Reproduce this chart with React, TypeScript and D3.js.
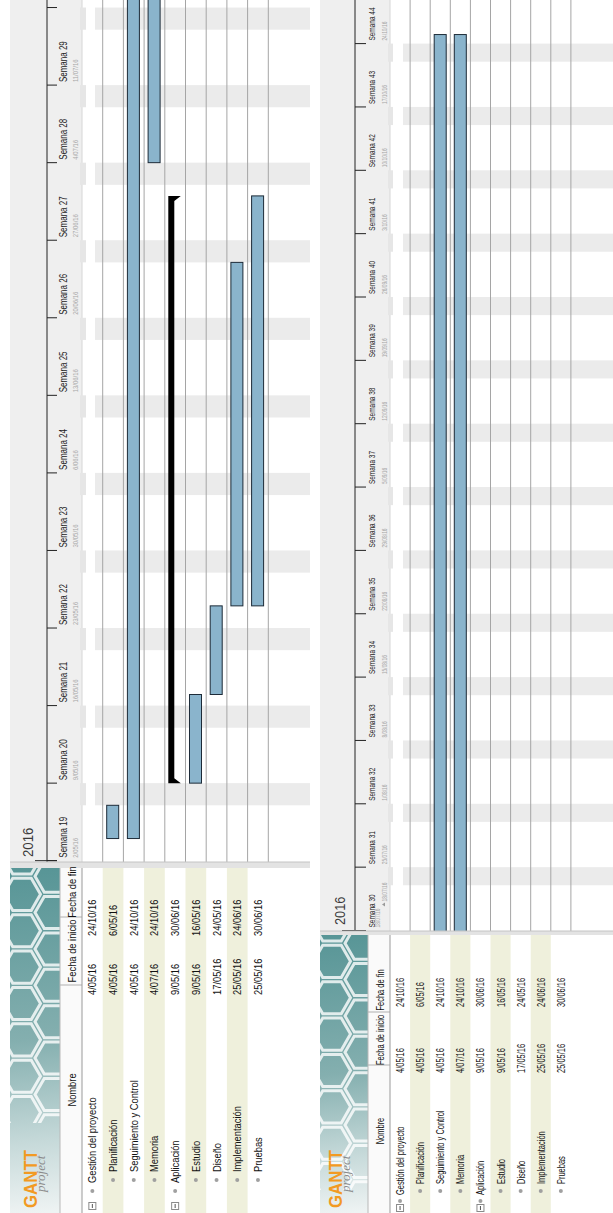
import React from 'react';
import * as d3 from 'd3';

// Tareas del proyecto (filas del diagrama)
const TASK_NAMES = ['Gestión del proyecto', 'Planificación', 'Seguimiento y Control', 'Memoria', 'Aplicación', 'Estudio', 'Diseño', 'Implementación', 'Pruebas'];
const TASK_LEVELS = [0, 1, 1, 1, 0, 1, 1, 1, 1];
const TASK_STARTS = ['4/05/16', '4/05/16', '4/05/16', '4/07/16', '9/05/16', '9/05/16', '17/05/16', '25/05/16', '25/05/16'];
const TASK_ENDS = ['24/10/16', '6/05/16', '24/10/16', '24/10/16', '30/06/16', '16/05/16', '24/05/16', '24/06/16', '30/06/16'];
// como se dibuja cada fila: sin barra, tarea normal o resumen
const TASK_KINDS = ['none', 'task', 'task', 'task', 'summary', 'task', 'task', 'task', 'task'];
const COLUMN_TITLES = ['Nombre', 'Fecha de inicio', 'Fecha de fin'];
const YEAR_LABEL = '2016';
const TODAY_LABEL = '18/07/16';
// rango visible de cada captura
const VIEW_RANGES = [['2/05/16', '18/07/16'], ['18/07/16', '31/10/16']];

const parse = d3.utcParse('%d/%m/%y');
const fmt = d3.utcFormat('%-d/%m/%y');
const FONT = '"Liberation Sans", Arial, sans-serif';
const H = 1213;

const LEFT = {
  id: 'p1', hdrX0: 10, hdrX1: 82, chartBottom: 862, bandX0: 95, bandX1: 310, hdrBand: [80, 86],
  yBottom: 860.7, dayPx: 11.08,
  lineX: 47, tickX1: 57, tickExtX0: 35,
  yearX: 33, yearY: 857, yearSize: 15, yearSx: 0.88,
  weekX: 66.5, weekSize: 10, weekSx: 0.8, weekLen: 38,
  dateX: 78, firstDateX: 78, dateSize: 7, dateSx: 0.85,
  rowX0: 82, rowH: 20.7, barOff: 4, barW: 12, sumOff: 3.5, sumW: 6, sumTip: 6.5,
  sepY1: 868, tealX1: 60,
  hdrTextX: 76, hdrCenters: [1090, 951, 892], hdrBorders: [985, 917],
  textSize: 11, textSx: 0.85,
  nameStart: [1183, 1172], bulletY: [1191, 1180], treeY: 1206,
  dateStarts: [995, 936],
  ganttX: 37, projectX: 45,
};

const RIGHT = {
  id: 'p2', hdrX0: 320, hdrX1: 390, chartBottom: 931, bandX0: 403, bandX1: 613, hdrBand: [388, 393],
  yBottom: 930.5, dayPx: 9.05,
  lineX: 355, tickX1: 366, tickExtX0: 342,
  yearX: 345, yearY: 925, yearSize: 15, yearSx: 0.85,
  weekX: 375, weekSize: 9, weekSx: 0.72, weekLen: 30,
  dateX: 387, firstDateX: 380, dateSize: 6.5, dateSx: 0.75,
  rowX0: 390, rowH: 20.1, barOff: 4, barW: 12, sumOff: 3.5, sumW: 6, sumTip: 6.5,
  sepY1: 935, tealX1: 368,
  hdrTextX: 384, hdrCenters: [1131, 1040, 990], hdrBorders: [1065, 1012],
  textSize: 11, textSx: 0.68,
  nameStart: [1195, 1184], bulletY: [1201, 1191], treeY: 1208,
  dateStarts: [1073, 1007],
  ganttX: 342, projectX: 350,
};

function VText({ x, y, sx = 1, anchor = 'start', size, fill = '#000', children, ...rest }: any) {
  return (
    <text transform={`translate(${x},${y}) rotate(-90) scale(${sx},1)`} textAnchor={anchor}
      fontSize={size} fill={fill} {...rest}>{children}</text>
  );
}

function hexPath(cx: number, cy: number, r: number) {
  const pts = d3.range(6).map(k => {
    const a = (Math.PI / 3) * k;
    return [cx + r * Math.cos(a), cy + r * Math.sin(a)];
  });
  return 'M' + pts.map(p => p.join(',')).join('L') + 'Z';
}

function Panel({ g, range, today }: any) {
  const d0 = parse(range[0])!;
  const d1 = parse(range[1])!;
  const nDays = d3.utcDay.count(d0, d1);
  const y = d3.scaleUtc().domain([d0, d1]).range([g.yBottom, g.yBottom - nDays * g.dayPx]);
  const n = TASK_NAMES.length;
  const rows = d3.scaleBand<number>().domain(d3.range(n)).range([g.rowX0, g.rowX0 + n * g.rowH]);
  const mondays = d3.utcMonday.range(d0, d3.utcDay.offset(d1, 8));
  const saturdays = d3.utcSaturday.range(d0, d3.utcDay.offset(d1, 7));
  const weekNo = (d: Date) => d3.utcMonday.count(d3.utcYear(d), d) + 1;
  const tableTop = g.sepY1;

  // panal del logo
  const hexR = 21;
  const hexes: string[] = [];
  for (let i = 0; i < 3; i++) {
    for (let j = 0; j < 8; j++) {
      const cx = g.hdrX0 + 12 + i * hexR * 1.5;
      const cy = tableTop - 10 + j * hexR * Math.sqrt(3) + (i % 2) * hexR * Math.sqrt(3) / 2;
      hexes.push(hexPath(cx, cy, hexR - 2.5));
    }
  }

  return (
    <g>
      <defs>
        <clipPath id={`${g.id}-chart`}>
          <rect x={g.hdrX0} y={0} width={g.bandX1 - g.hdrX0} height={g.chartBottom} />
        </clipPath>
        <clipPath id={`${g.id}-logo`}>
          <rect x={g.hdrX0} y={tableTop} width={g.tealX1 - g.hdrX0} height={255} />
        </clipPath>
        <linearGradient id={`${g.id}-teal`} gradientUnits="userSpaceOnUse" x1={g.hdrX0} y1={tableTop} x2={g.tealX1 - 20} y2={H}>
          <stop offset="0" stopColor="#579596" />
          <stop offset="0.5" stopColor="#84afaf" />
          <stop offset="0.8" stopColor="#c7dada" />
          <stop offset="1" stopColor="#eef3f3" />
        </linearGradient>
      </defs>

      {/* cabecera de la escala de tiempo */}
      <rect x={g.hdrX0} y={0} width={g.hdrX1 - g.hdrX0} height={g.chartBottom} fill="#efefef" />
      <line x1={g.hdrX1} x2={g.hdrX1} y1={0} y2={g.chartBottom} stroke="#d6d6d6" />

      <g clipPath={`url(#${g.id}-chart)`}>
        {/* fines de semana */}
        {saturdays.map((s, i) => {
          const yTop = y(d3.utcDay.offset(s, 2));
          const yBot = y(s);
          return (
            <g key={i}>
              <rect x={g.hdrBand[0]} y={yTop} width={g.hdrBand[1] - g.hdrBand[0]} height={yBot - yTop} fill="#e6e6e6" />
              <rect x={g.bandX0} y={yTop} width={g.bandX1 - g.bandX0} height={yBot - yTop} fill="#ebebeb" />
            </g>
          );
        })}

        {/* separadores de filas */}
        {d3.range(n).map(i => (
          <line key={i} x1={rows(i)! + g.rowH} x2={rows(i)! + g.rowH} y1={0} y2={g.chartBottom} stroke="#a5a5a5" />
        ))}

        {/* eje temporal */}
        <line x1={g.lineX} x2={g.lineX} y1={0} y2={g.chartBottom} stroke="#222" />
        <line x1={g.tickExtX0} x2={g.tickX1} y1={g.yBottom} y2={g.yBottom} stroke="#222" />
        {mondays.map((m, i) => (
          <g key={i}>
            <line x1={g.lineX} x2={g.tickX1} y1={y(m)} y2={y(m)} stroke="#222" />
            {y(m) - 3 - g.weekLen >= 0 && (
              <g>
                <VText x={g.weekX} y={y(m) - 3} size={g.weekSize} sx={g.weekSx} fill="#222">{`Semana ${weekNo(m)}`}</VText>
                <VText x={i === 0 ? g.firstDateX : g.dateX} y={y(m) - 3} size={g.dateSize} sx={g.dateSx} fill="#a8a8a8">{fmt(m)}</VText>
              </g>
            )}
          </g>
        ))}

        {/* barras */}
        {d3.range(n).map(i => {
          const kind = TASK_KINDS[i];
          if (kind === 'none') return null;
          const start = parse(TASK_STARTS[i])!;
          const end = d3.utcDay.offset(parse(TASK_ENDS[i])!, 1);
          if (end <= d0 || start >= d1) return null;
          const yTop = y(end);
          const yBot = Math.min(y(start), g.chartBottom + 2);
          if (kind === 'task') {
            return (
              <rect key={i} x={rows(i)! + g.barOff} y={yTop} width={g.barW} height={yBot - yTop}
                fill="#8ab4cc" stroke="#1d2b38" strokeWidth={1} />
            );
          }
          const x0 = rows(i)! + g.sumOff;
          const x1 = x0 + g.sumW;
          const x2 = x1 + g.sumTip;
          const p = d3.path();
          p.moveTo(x0, yTop);
          p.lineTo(x2, yTop);
          p.lineTo(x1, yTop + 5);
          p.lineTo(x1, yBot - 5);
          p.lineTo(x2, yBot);
          p.lineTo(x0, yBot);
          p.closePath();
          return <path key={i} d={p.toString()} fill="#000" />;
        })}
      </g>

      <VText x={g.yearX} y={g.yearY} size={g.yearSize} sx={g.yearSx} fill="#3a3a3a">{YEAR_LABEL}</VText>

      {today && (
        <g>
          <path d={`M${g.dateX - 5},${g.yBottom - 26} l3,-2 l0,4 z`} fill="#9a9a9a" />
          <VText x={g.dateX} y={g.yBottom - 29} size={g.dateSize} sx={g.dateSx} fill="#a8a8a8">{TODAY_LABEL}</VText>
        </g>
      )}

      {/* separador entre diagrama y tabla */}
      <rect x={g.hdrX0} y={g.chartBottom} width={g.bandX1 - g.hdrX0} height={tableTop - g.chartBottom} fill="#e3e3e3" />
      <line x1={g.hdrX0} x2={g.bandX1} y1={g.chartBottom} y2={g.chartBottom} stroke="#c4c4c4" />

      {/* tabla: logo */}
      <rect x={g.hdrX0} y={tableTop} width={g.tealX1 - g.hdrX0} height={H - tableTop} fill={`url(#${g.id}-teal)`} />
      <g clipPath={`url(#${g.id}-logo)`}>
        {hexes.map((d, i) => (
          <path key={i} d={d} fill="none" stroke="#ffffff" strokeWidth={3} strokeOpacity={0.8} />
        ))}
      </g>
      <VText x={g.ganttX} y={1208} size={18} fontWeight="bold" fill="#f29a22" textLength={58} lengthAdjust="spacingAndGlyphs">GANTT</VText>
      <VText x={g.projectX} y={1192} size={13} fontStyle="italic" fontFamily='"Liberation Serif", serif' fill="#8a8a8a">project</VText>

      {/* tabla: cabeceras */}
      <rect x={g.tealX1} y={tableTop} width={g.hdrX1 - g.tealX1} height={H - tableTop} fill="#fafafa" />
      {g.hdrBorders.map((b: number, i: number) => (
        <line key={i} x1={g.tealX1} x2={g.hdrX1} y1={b} y2={b} stroke="#b0b0b0" />
      ))}
      <line x1={g.tealX1} x2={g.tealX1} y1={tableTop} y2={H} stroke="#b8b8b8" />
      <line x1={g.hdrX1} x2={g.hdrX1} y1={tableTop} y2={H} stroke="#9a9a9a" />
      {COLUMN_TITLES.map((t, i) => (
        <VText key={t} x={g.hdrTextX} y={g.hdrCenters[i]} anchor="middle" size={g.textSize} sx={g.textSx} fill="#111">{t}</VText>
      ))}

      {/* tabla: filas */}
      {d3.range(n).map(i => {
        const x = rows(i)!;
        const lvl = TASK_LEVELS[i];
        const base = x + g.rowH / 2 + 4;
        return (
          <g key={i}>
            {i % 2 === 1 && <rect x={x} y={tableTop} width={g.rowH} height={H - tableTop} fill="#eff0dc" />}
            {lvl === 0 && (
              <g>
                <rect x={x + g.rowH / 2 - 3.5} y={g.treeY - 3.5} width={7} height={7} fill="#fff" stroke="#8a8a8a" />
                <line x1={x + g.rowH / 2} x2={x + g.rowH / 2} y1={g.treeY - 2} y2={g.treeY + 2} stroke="#555" />
              </g>
            )}
            <circle cx={x + g.rowH / 2} cy={g.bulletY[lvl]} r={2} fill="#a0a0a0" />
            <VText x={base} y={g.nameStart[lvl]} size={g.textSize} sx={g.textSx} fill="#111">{TASK_NAMES[i]}</VText>
            <VText x={base} y={g.dateStarts[0]} size={g.textSize} sx={g.textSx} fill="#111">{TASK_STARTS[i]}</VText>
            <VText x={base} y={g.dateStarts[1]} size={g.textSize} sx={g.textSx} fill="#111">{TASK_ENDS[i]}</VText>
          </g>
        );
      })}
    </g>
  );
}

export default function App() {
  return (
    <svg width={613} height={H} style={{ position: 'absolute', left: 0, top: 0, background: '#fff' }} fontFamily={FONT}>
      <Panel g={LEFT} range={VIEW_RANGES[0]} />
      <Panel g={RIGHT} range={VIEW_RANGES[1]} today />
    </svg>
  );
}
